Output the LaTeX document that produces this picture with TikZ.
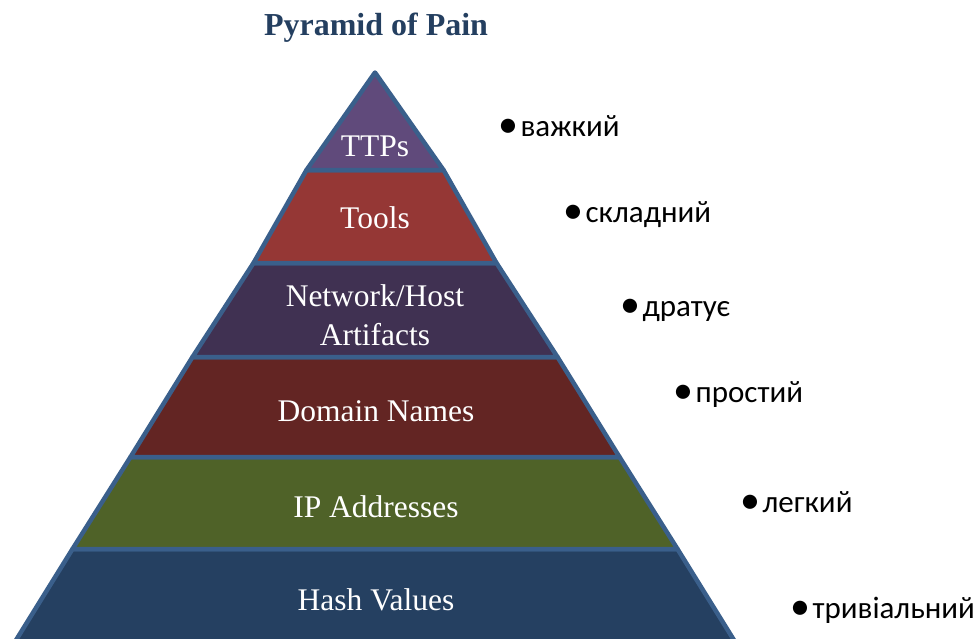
\documentclass[tikz,border=0pt]{standalone}
\usepackage{fontspec}
\setmainfont{Liberation Serif}
\newfontfamily\labelfont{Carlito}
\definecolor{edgeblue}{HTML}{3A5F8B}
\definecolor{titleblue}{HTML}{243F60}
\definecolor{ttpcol}{HTML}{604A7B}
\definecolor{toolcol}{HTML}{953735}
\definecolor{artcol}{HTML}{403152}
\definecolor{domcol}{HTML}{632523}
\definecolor{ipcol}{HTML}{4F6228}
\definecolor{hashcol}{HTML}{254061}
\tikzset{
  layer/.style={draw=edgeblue, line width=4.5pt, line join=round},
  layertext/.style={text=white, font=\fontsize{31.5}{39}\selectfont, anchor=base, inner sep=0pt},
  level/.style={font=\labelfont\fontsize{31}{37}\selectfont, anchor=base west, inner sep=0pt},
}
\newcommand{\lvl}[1]{\raisebox{-1.5pt}{\fontsize{40}{40}\selectfont\textbullet}\hspace{2.5pt}#1}
\begin{document}
\begin{tikzpicture}[x=1pt,y=-1pt]
\useasboundingbox (0,0) rectangle (978,638);
% pyramid levels, bottom to top
\filldraw[layer, fill=hashcol] (72.5,549) -- (677.5,549) -- (737,645) -- (13,645) -- cycle;
\filldraw[layer, fill=ipcol]   (130.5,457) -- (619.5,457) -- (677.5,549) -- (72.5,549) -- cycle;
\filldraw[layer, fill=domcol]  (192.5,357) -- (557.5,357) -- (619.5,457) -- (130.5,457) -- cycle;
\filldraw[layer, fill=artcol]  (253.5,263) -- (496.5,263) -- (557.5,357) -- (192.5,357) -- cycle;
\filldraw[layer, fill=toolcol] (306.5,170) -- (443.5,170) -- (496.5,263) -- (253.5,263) -- cycle;
\filldraw[layer, fill=ttpcol]  (375,72.5) -- (443.5,170) -- (306.5,170) -- cycle;
% title
\node[font=\bfseries\fontsize{32}{38}\selectfont, text=titleblue, anchor=base, inner sep=0pt] (title) at (376,35) {Pyramid of Pain};
% level names
\node[layertext] (ttp) at (375,156) {TTPs};
\node[layertext] (tools) at (375,228) {Tools};
\node[layertext] (netA) at (375,306) {Network/Host};
\node[layertext] (netB) at (375,345) {Artifacts};
\node[layertext] (dom) at (376,421) {Domain Names};
\node[layertext] (ip) at (376,517) {IP Addresses};
\node[layertext] (hash) at (376,610) {Hash Values};
% difficulty levels
\node[level] (d1) at (498,136) {\lvl{важкий}};
\node[level] (d2) at (563,222) {\lvl{складний}};
\node[level] (d3) at (620,316) {\lvl{дратує}};
\node[level] (d4) at (673,402) {\lvl{простий}};
\node[level] (d5) at (740,512) {\lvl{легкий}};
\node[level] (d6) at (790,618) {\lvl{тривіальний}};
\end{tikzpicture}
\end{document}
